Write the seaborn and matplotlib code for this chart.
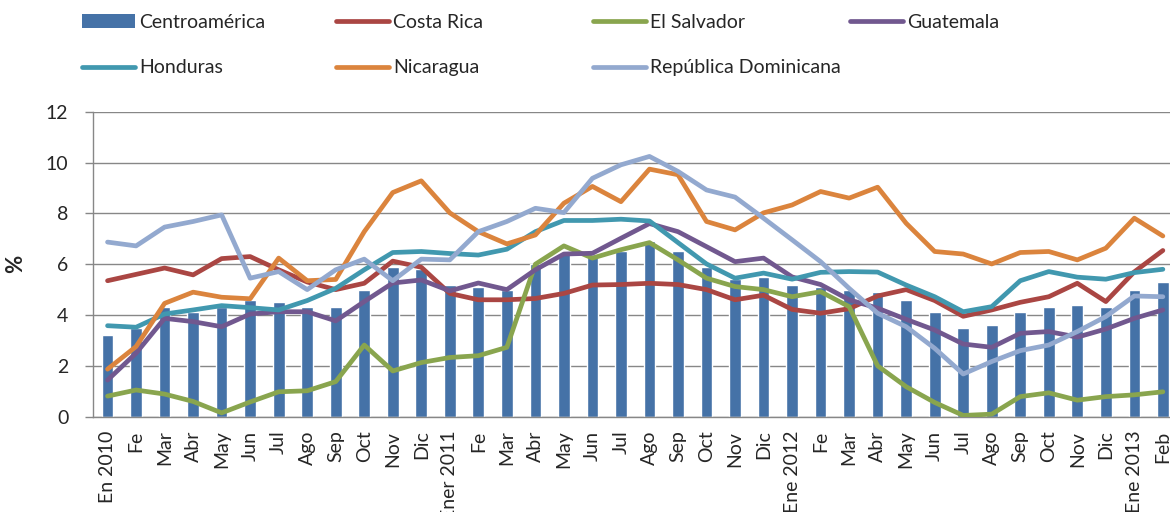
import numpy as np
import pandas as pd
import matplotlib
matplotlib.use("Agg")
import matplotlib.pyplot as plt
from matplotlib.patches import Patch
from matplotlib.lines import Line2D
import seaborn as sns

# ---------------- data ----------------
meses = ["En 2010", "Fe", "Mar", "Abr", "May", "Jun", "Jul", "Ago", "Sep", "Oct", "Nov", "Dic",
         "Ener 2011", "Fe", "Mar", "Abr", "May", "Jun", "Jul", "Ago", "Sep", "Oct", "Nov", "Dic",
         "Ene 2012", "Fe", "Mar", "Abr", "May", "Jun", "Jul", "Ago", "Sep", "Oct", "Nov", "Dic",
         "Ene 2013", "Feb"]

centroamerica = [3.2, 3.5, 4.3, 4.1, 4.3, 4.6, 4.5, 4.3, 4.3, 5.0, 5.9, 5.8,
                 5.2, 5.1, 5.0, 6.0, 6.4, 6.3, 6.5, 6.9, 6.5, 5.9, 5.4, 5.5,
                 5.2, 5.1, 5.0, 4.9, 4.6, 4.1, 3.5, 3.6, 4.1, 4.3, 4.4, 4.3,
                 5.0, 5.3]

costa_rica = [5.35, 5.6, 5.85, 5.58, 6.22, 6.3, 5.78, 5.3, 5.0, 5.25, 6.12, 5.88,
              4.85, 4.6, 4.6, 4.65, 4.85, 5.18, 5.2, 5.25, 5.2, 5.0, 4.6, 4.78,
              4.22, 4.07, 4.25, 4.75, 5.0, 4.57, 3.95, 4.2, 4.5, 4.72, 5.25, 4.53,
              5.7, 6.54]

el_salvador = [0.81, 1.05, 0.89, 0.6, 0.15, 0.58, 0.98, 1.02, 1.38, 2.82, 1.8, 2.13,
               2.33, 2.4, 2.73, 6.0, 6.72, 6.24, 6.57, 6.85, 6.17, 5.45, 5.12, 5.0,
               4.72, 4.92, 4.33, 2.0, 1.18, 0.56, 0.05, 0.1, 0.79, 0.94, 0.65, 0.79,
               0.86, 0.98]

guatemala = [1.44, 2.5, 3.87, 3.74, 3.54, 4.04, 4.13, 4.13, 3.77, 4.53, 5.26, 5.38,
             4.95, 5.26, 5.0, 5.78, 6.4, 6.43, 7.02, 7.6, 7.28, 6.69, 6.1, 6.24,
             5.5, 5.2, 4.6, 4.27, 3.83, 3.41, 2.86, 2.73, 3.28, 3.35, 3.13, 3.45,
             3.87, 4.2]

honduras = [3.58, 3.52, 4.04, 4.2, 4.37, 4.29, 4.2, 4.57, 5.05, 5.78, 6.46, 6.5,
            6.42, 6.36, 6.59, 7.28, 7.72, 7.72, 7.77, 7.7, 6.85, 6.01, 5.45, 5.65,
            5.41, 5.68, 5.71, 5.69, 5.18, 4.72, 4.13, 4.33, 5.35, 5.71, 5.49, 5.41,
            5.67, 5.8]

nicaragua = [1.87, 2.76, 4.46, 4.9, 4.7, 4.64, 6.24, 5.35, 5.4, 7.28, 8.82, 9.28,
             8.02, 7.28, 6.8, 7.15, 8.4, 9.06, 8.46, 9.74, 9.52, 7.68, 7.35, 8.02,
             8.33, 8.86, 8.6, 9.03, 7.61, 6.5, 6.4, 6.01, 6.46, 6.5, 6.17, 6.63,
             7.81, 7.11]

rep_dominicana = [6.87, 6.72, 7.46, 7.68, 7.94, 5.45, 5.71, 5.0, 5.78, 6.2, 5.35, 6.2,
                  6.17, 7.28, 7.68, 8.2, 8.03, 9.38, 9.91, 10.24, 9.65, 8.92, 8.64, 7.81,
                  6.96, 6.1, 5.05, 4.07, 3.54, 2.69, 1.68, 2.17, 2.6, 2.82, 3.35, 3.94,
                  4.75, 4.72]

paises = ["Costa Rica", "El Salvador", "Guatemala", "Honduras", "Nicaragua",
          "República Dominicana"]
series = [costa_rica, el_salvador, guatemala, honduras, nicaragua, rep_dominicana]
colores = ["#AA4643", "#89A54E", "#71588F", "#4198AF", "#DB843D", "#93A9CF"]
color_barra = "#4572A7"

# ---------------- style ----------------
sns.set_style("white")
plt.rcParams["font.family"] = ["Lato", "DejaVu Sans"]
plt.rcParams["font.size"] = 14

W, H = 1170, 512
fig = plt.figure(figsize=(W / 100, H / 100), dpi=100)
ax = fig.add_axes([93 / W, 1 - 416.7 / H, 1077 / W, 305 / H])

idx = np.arange(len(meses))
sns.barplot(x=idx, y=centroamerica, color=color_barra, width=0.41,
            saturation=1, ax=ax, zorder=2)

df = pd.DataFrame({
    "idx": np.tile(idx, len(paises)),
    "valor": np.concatenate(series),
    "pais": np.repeat(paises, len(idx)),
})
lw = 3.4
sns.lineplot(data=df, x="idx", y="valor", hue="pais", hue_order=paises,
             palette=colores, linewidth=lw, legend=False, sort=False, ax=ax,
             solid_capstyle="round", solid_joinstyle="round", zorder=3)

grid_c = "#878787"
ax.set_ylim(0, 12)
ax.set_yticks(np.arange(0, 13, 2))
ax.set_xlim(-0.51, 37.25)
ax.set_xticks(idx)
ax.set_xticklabels(meses, rotation=90)
ax.yaxis.grid(True, color=grid_c, linewidth=1.0, zorder=0)
ax.xaxis.grid(False)
ax.set_axisbelow(True)
for s in ["top", "right"]:
    ax.spines[s].set_visible(False)
for s in ["left", "bottom"]:
    ax.spines[s].set_color(grid_c)
    ax.spines[s].set_linewidth(1.0)
ax.tick_params(axis="y", direction="out", length=5.8, width=1, color=grid_c,
               pad=12, labelsize=14, left=True)
ax.tick_params(axis="x", length=0, pad=10, labelsize=14)
ax.set_xlabel("")
ax.set_ylabel("%", fontsize=16, fontweight="bold")
ax.yaxis.set_label_coords(-0.062, 0.5)

# ---------------- legend ----------------
def mk_line(c):
    return Line2D([0], [0], color=c, lw=lw, solid_capstyle="round")

columnas = [
    ([Patch(facecolor=color_barra, edgecolor="none"), mk_line(colores[3])],
     ["Centroamérica", "Honduras"], 82),
    ([mk_line(colores[0]), mk_line(colores[4])], ["Costa Rica", "Nicaragua"], 336),
    ([mk_line(colores[1]), mk_line(colores[5])], ["El Salvador", "República Dominicana"], 593),
    ([mk_line(colores[2])], ["Guatemala"], 850),
]
for hs, ls, xpx in columnas:
    fig.legend(hs, ls, loc="upper left", bbox_to_anchor=(xpx / W, 1 - 14 / H),
               frameon=False, borderpad=0, borderaxespad=0, handlelength=2.7,
               handleheight=0.7, handletextpad=0.25, labelspacing=1.46, fontsize=14)

fig.savefig("out.png", dpi=100)
